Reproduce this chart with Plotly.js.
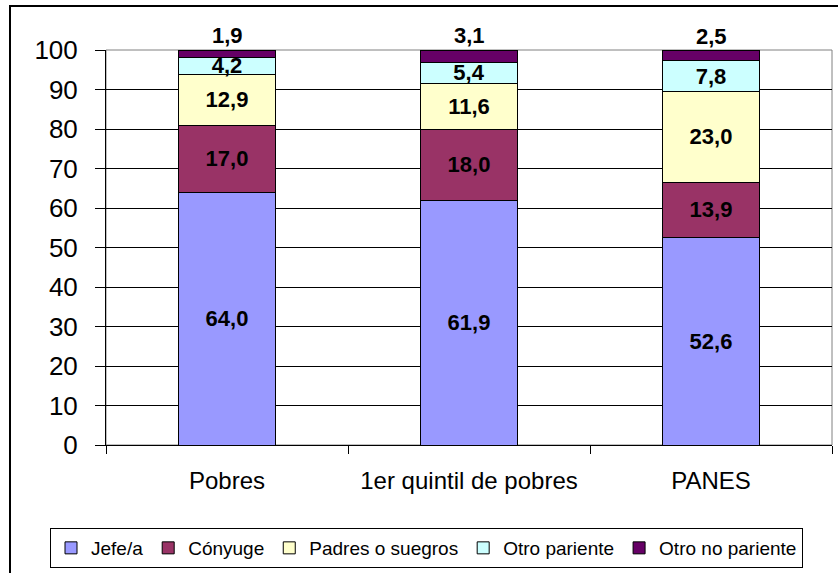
<!DOCTYPE html>
<html>
<head>
<meta charset="utf-8">
<script src="https://cdn.plot.ly/plotly-3.0.1.min.js"></script>
<style>
html,body{margin:0;padding:0;background:#fff;overflow:hidden;}
#wrap{position:relative;width:838px;height:573px;}
#chart{width:838px;height:573px;}
#frame{position:absolute;left:9px;top:5px;width:840px;height:600px;border:2px solid #000;pointer-events:none;box-sizing:border-box;}
</style>
</head>
<body>
<div id="wrap"><div id="chart"></div><div id="frame"></div></div>
<script>
const categories = ["Pobres", "1er quintil de pobres", "PANES"];
const seriesNames = ["Jefe/a", "Cónyuge", "Padres o suegros", "Otro pariente", "Otro no pariente"];
const jefe = [64.0, 61.9, 52.6];
const conyuge = [17.0, 18.0, 13.9];
const padres = [12.9, 11.6, 23.0];
const otroPariente = [4.2, 5.4, 7.8];
const otroNoPariente = [1.9, 3.1, 2.5];
const yTicks = [0, 10, 20, 30, 40, 50, 60, 70, 80, 90, 100];

const colors = ["#9999FF", "#993366", "#FFFFCC", "#CCFFFF", "#660066"];
const values = [jefe, conyuge, padres, otroPariente, otroNoPariente];
const fmt = v => v.toFixed(1).replace('.', ',');
const FONT = "Arial, 'Liberation Sans', sans-serif";
const labelFont = {family: FONT, size: 22, color: '#000', weight: 'bold'};
const last = values.length - 1;

const traces = values.map((vals, i) => ({
  type: 'bar',
  name: seriesNames[i],
  x: categories,
  y: vals,
  text: i === last ? null : vals.map(fmt),
  textposition: i === last ? 'none' : 'inside',
  insidetextanchor: 'middle',
  constraintext: 'none',
  textfont: labelFont,
  insidetextfont: labelFont,
  marker: {color: colors[i], line: {color: '#000', width: 1}},
  hoverinfo: 'skip'
}));

// top labels (Otro no pariente) placed just above each stack
const totals = categories.map((c, k) =>
  Math.min(100, Math.round(values.reduce((s, v) => s + v[k], 0) * 10) / 10));
const annotations = categories.map((c, k) => ({
  x: c, y: totals[k], xref: 'x', yref: 'y',
  text: fmt(otroNoPariente[k]),
  showarrow: false, yanchor: 'bottom', yshift: 0,
  font: labelFont
}));

const L = 106, R = 832, T = 50, B = 446;
const px = p => (p - L) / (R - L);
const py = p => (B - p) / (B - T);

const layout = {
  width: 838, height: 573,
  margin: {l: L, r: 838 - R, t: T, b: 573 - B, pad: 0},
  paper_bgcolor: '#fff', plot_bgcolor: '#fff',
  barmode: 'stack',
  bargap: 0.6,
  showlegend: true,
  font: {family: FONT, color: '#000'},
  annotations: annotations,
  xaxis: {
    type: 'category',
    tickfont: {family: FONT, size: 24, color: '#000'},
    ticks: 'outside', tickson: 'boundaries', ticklen: 8, tickcolor: '#000',
    ticklabelstandoff: 14,
    showline: true, linecolor: '#000', linewidth: 1,
    showgrid: false, zeroline: false, fixedrange: true
  },
  yaxis: {
    range: [0, 100],
    tickvals: yTicks,
    tickfont: {family: FONT, size: 26, color: '#000'},
    ticks: 'outside', ticklen: 10, tickcolor: '#000',
    ticklabelstandoff: 12,
    showline: true, linecolor: '#000', linewidth: 1,
    showgrid: true, gridcolor: '#000', gridwidth: 1,
    zeroline: false, fixedrange: true
  },
  legend: {
    orientation: 'h',
    x: px(50), xanchor: 'left',
    y: py(528), yanchor: 'top',
    bordercolor: '#000', borderwidth: 1,
    font: {family: FONT, size: 19, color: '#000'},
    itemwidth: 30,
    traceorder: 'normal'
  },
  shapes: [
    {type: 'rect', xref: 'paper', yref: 'paper', x0: 0, x1: 1, y0: 0, y1: 1,
     line: {color: '#808080', width: 1}, layer: 'below'}
  ]
};

Plotly.newPlot('chart', traces, layout, {displayModeBar: false, staticPlot: true});
</script>
</body>
</html>
